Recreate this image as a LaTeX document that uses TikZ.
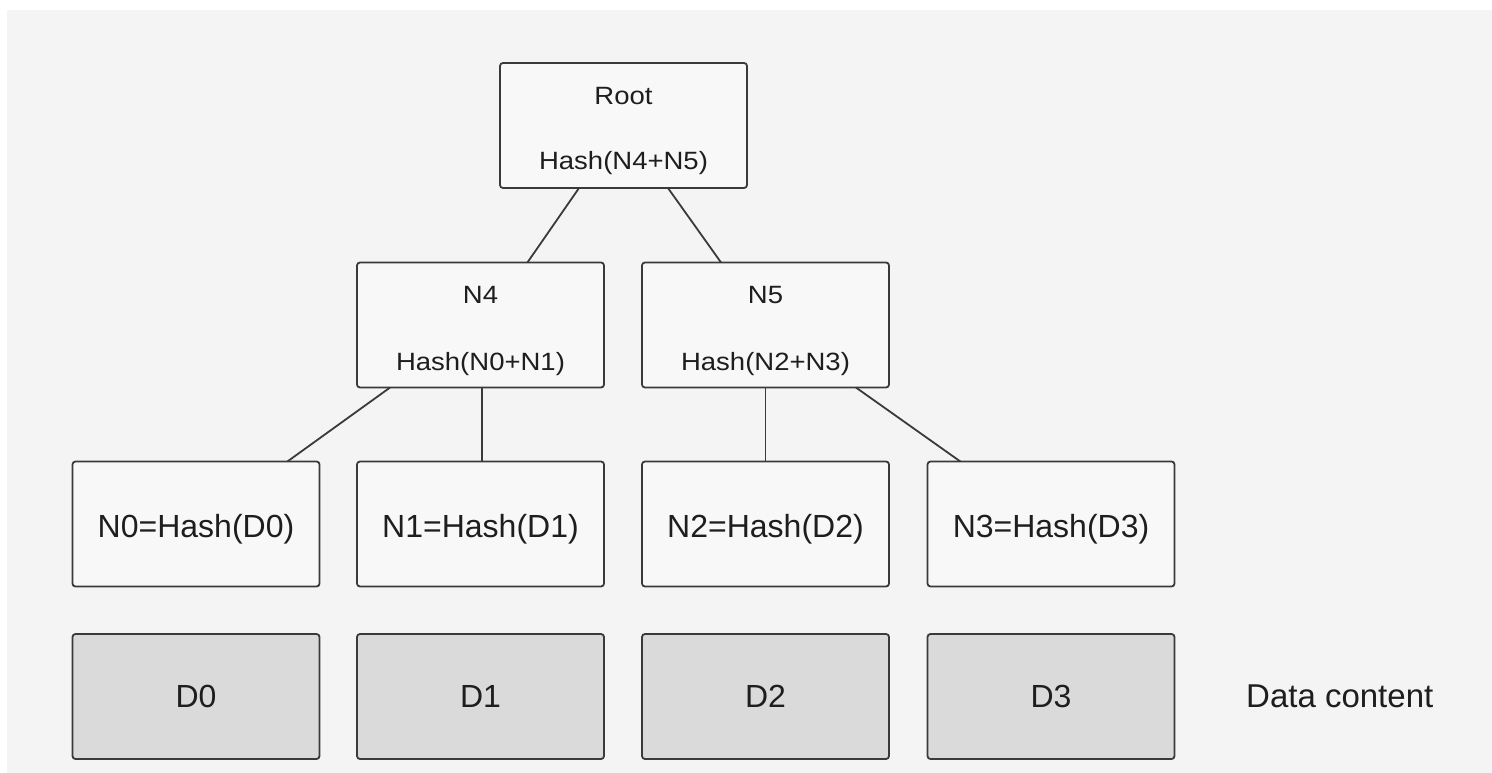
\documentclass[tikz,border=0pt]{standalone}
\usepackage{fontspec}
\setmainfont{Liberation Sans}
\newfontfamily\midfont[FakeStretch=1.1]{Liberation Sans}
\usetikzlibrary{calc}
\definecolor{bgc}{HTML}{F4F4F4}
\definecolor{boxc}{HTML}{F8F8F8}
\definecolor{datac}{HTML}{DADADA}
\definecolor{linec}{HTML}{3A3A3A}
\definecolor{txtc}{HTML}{1E1E1E}
\tikzset{
  hbox/.style={draw=linec, line width=1.8pt, fill=boxc, rounded corners=3pt,
    minimum width=247pt, minimum height=125pt, inner sep=0pt, outer sep=0pt},
  dbox/.style={hbox, fill=datac},
  midtxt/.style={anchor=base, text=txtc, inner sep=0pt, font=\midfont\fontsize{25}{30}\selectfont},
  lowtxt/.style={anchor=base, text=txtc, inner sep=0pt, font=\fontsize{32}{38}\selectfont},
  conn/.style={draw=linec, line width=1.8pt},
}
\begin{document}
\begin{tikzpicture}[x=1pt, y=-1pt]
\useasboundingbox (0,0) rectangle (1492,773);
\fill[white] (0,0) rectangle (1492,773);
\fill[bgc] (7,10) rectangle (1492,773);

% boxes
\node[hbox] (root) at (623.5,125.5) {};
\node[hbox] (n4) at (480.5,325) {};
\node[hbox] (n5) at (765.5,325) {};
\node[hbox] (n0) at (196,524) {};
\node[hbox] (n1) at (480.5,524) {};
\node[hbox] (n2) at (765.5,524) {};
\node[hbox] (n3) at (1051,524) {};
\node[dbox] (d0) at (196,696.5) {};
\node[dbox] (d1) at (480.5,696.5) {};
\node[dbox] (d2) at (765.5,696.5) {};
\node[dbox] (d3) at (1051,696.5) {};

% texts
\node[midtxt] (rootA) at (623.5,105) {Root};
\node[midtxt] (rootB) at (623.5,170) {Hash(N4+N5)};
\node[midtxt] (n4A) at (480.5,303) {N4};
\node[midtxt] (n4B) at (480.5,370) {Hash(N0+N1)};
\node[midtxt] (n5A) at (765.5,303) {N5};
\node[midtxt] (n5B) at (765.5,370) {Hash(N2+N3)};
\node[lowtxt] (n0t) at (196,537.5) {N0=Hash(D0)};
\node[lowtxt] (n1t) at (480.5,537.5) {N1=Hash(D1)};
\node[lowtxt] (n2t) at (765.5,537.5) {N2=Hash(D2)};
\node[lowtxt] (n3t) at (1051,537.5) {N3=Hash(D3)};
\node[lowtxt] (d0t) at (196,707.5) {D0};
\node[lowtxt] (d1t) at (480.5,707.5) {D1};
\node[lowtxt] (d2t) at (765.5,707.5) {D2};
\node[lowtxt] (d3t) at (1051,707.5) {D3};
\node[lowtxt, anchor=base west, font=\fontsize{33}{38}\selectfont] (dc) at (1246,707.5) {Data content};

% connectors
\draw[conn] ($(root.south west)!0.32!(root.south east)$) -- ($(n4.north west)!0.69!(n4.north east)$);
\draw[conn] ($(root.south west)!0.68!(root.south east)$) -- ($(n5.north west)!0.32!(n5.north east)$);
\draw[conn] ($(n4.south west)!0.134!(n4.south east)$) -- ($(n0.north west)!0.87!(n0.north east)$);
\draw[conn] ($(n4.south west)!0.506!(n4.south east)$) -- ($(n1.north west)!0.506!(n1.north east)$);
\draw[conn] ($(n5.south west)!0.5!(n5.south east)$) -- ($(n2.north west)!0.5!(n2.north east)$);
\draw[conn] ($(n5.south west)!0.866!(n5.south east)$) -- ($(n3.north west)!0.133!(n3.north east)$);
\end{tikzpicture}
\end{document}
